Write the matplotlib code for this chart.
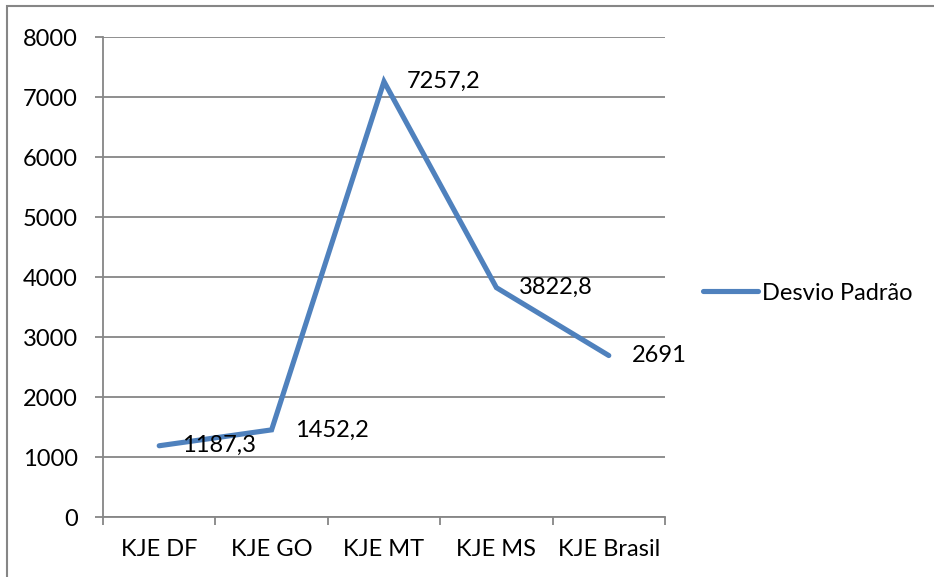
import matplotlib.pyplot as plt
import matplotlib.patches as mpatches

plt.rcParams['font.family'] = ['Lato', 'DejaVu Sans']

categories = ['KJE DF', 'KJE GO', 'KJE MT', 'KJE MS', 'KJE Brasil']
desvio = [1187.3, 1452.2, 7257.2, 3822.8, 2691]
labels = ['1187,3', '1452,2', '7257,2', '3822,8', '2691']

LINE_COLOR = '#4F81BD'
GRID_COLOR = '#868686'
FS = 17

fig = plt.figure(figsize=(9.34, 5.77), dpi=100)
ax = fig.add_axes([103 / 934, 1 - 517 / 577, (665 - 103) / 934, (517 - 37) / 577])

x = list(range(len(categories)))
ax.plot(x, desvio, color=LINE_COLOR, lw=3.7, solid_capstyle='round',
        solid_joinstyle='miter', label='Desvio Padrão', zorder=3)

for xi, yi, t in zip(x, desvio, labels):
    ax.annotate(t, (xi, yi), xytext=(16.5, 0), textcoords='offset points',
                ha='left', va='center', fontsize=FS, color='black', zorder=4)

ax.set_xlim(-0.5, len(categories) - 0.5)
ax.set_ylim(0, 8000)
ax.set_yticks(range(0, 8001, 1000))
ax.yaxis.grid(True, color=GRID_COLOR, lw=1.3)
ax.set_axisbelow(True)

# ticks between categories, labels at category centers
ax.set_xticks([i - 0.5 for i in range(len(categories) + 1)])
ax.set_xticklabels([])
ax.set_xticks(x, minor=True)
ax.set_xticklabels(categories, minor=True)
ax.tick_params(axis='x', which='major', length=6, width=1.3, color=GRID_COLOR, direction='out')
ax.tick_params(axis='x', which='minor', length=0, pad=16, labelsize=FS)
ax.tick_params(axis='y', length=6, width=1.3, color=GRID_COLOR, pad=12, labelsize=FS)

for s in ['top', 'right']:
    ax.spines[s].set_visible(False)
for s in ['left', 'bottom']:
    ax.spines[s].set_color(GRID_COLOR)
    ax.spines[s].set_linewidth(1.3)

fig.legend(loc='center left', bbox_to_anchor=(703 / 934, 1 - 293 / 577),
           frameon=False, fontsize=FS, handlelength=2.35, handletextpad=0.15,
           borderpad=0, borderaxespad=0)

# chart area border
fig.patches.append(mpatches.Rectangle((6.5 / 934, -0.1), 2, 1.1 - 6.5 / 577,
                                      transform=fig.transFigure, fill=False,
                                      edgecolor=GRID_COLOR, lw=1.5))

plt.savefig('out.png', dpi=100)
